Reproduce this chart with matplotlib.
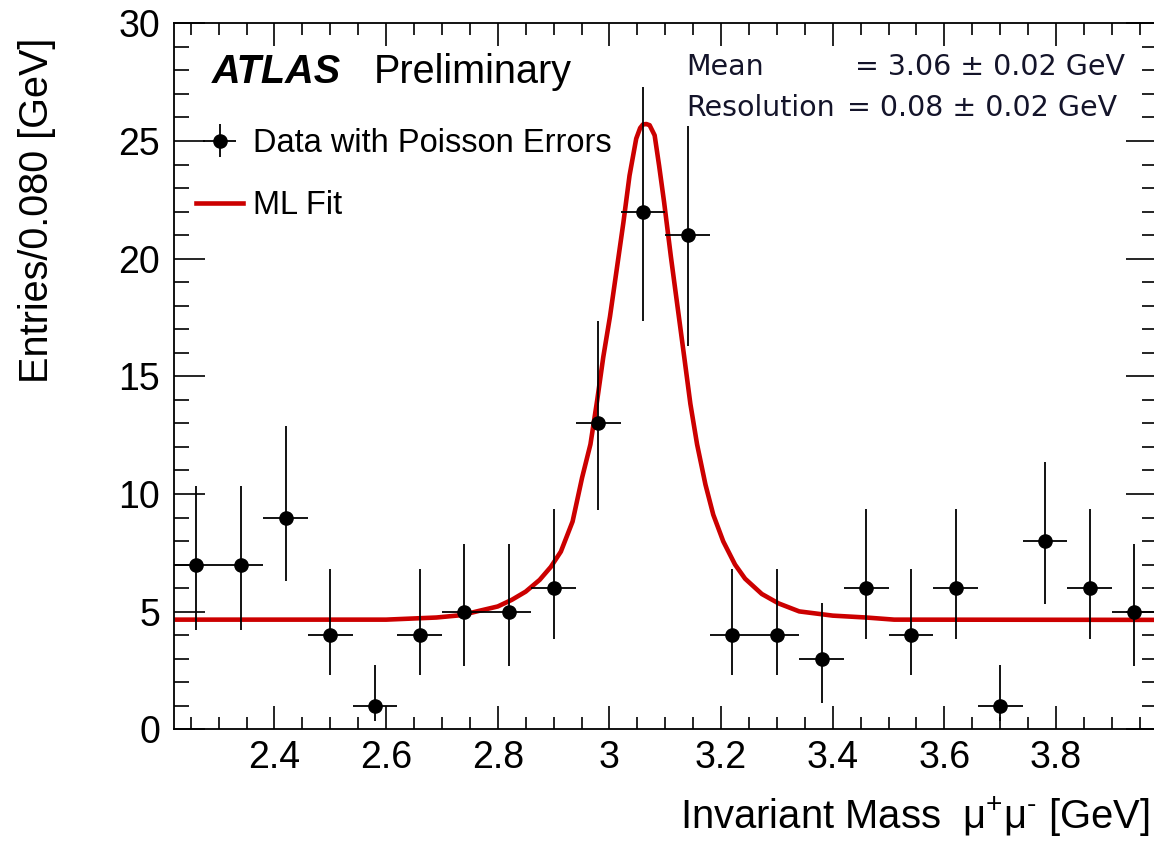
import numpy as np
import matplotlib
matplotlib.use('Agg')
import matplotlib.pyplot as plt
from matplotlib.ticker import MultipleLocator

plt.rcParams['font.family'] = ['Liberation Sans', 'DejaVu Sans']
plt.rcParams['mathtext.fontset'] = 'custom'
plt.rcParams['mathtext.rm'] = 'Liberation Sans'
plt.rcParams['mathtext.it'] = 'Liberation Sans:italic'

# binned data (bin width 0.08 GeV)
bin_width = 0.08
mass = [2.26, 2.34, 2.42, 2.50, 2.58, 2.66, 2.74, 2.82, 2.90, 2.98, 3.06,
        3.14, 3.22, 3.30, 3.38, 3.46, 3.54, 3.62, 3.70, 3.78, 3.86, 3.94]
counts = [7, 7, 9, 4, 1, 4, 5, 5, 6, 13, 22, 21, 4, 4, 3, 6, 4, 6, 1, 8, 6, 5]
err_lo = [2.76, 2.76, 2.70, 1.70, 0.63, 1.70, 2.30, 2.30, 2.16, 3.69, 4.67,
          4.73, 1.70, 1.70, 1.90, 2.16, 1.70, 2.16, 0.63, 2.68, 2.16, 2.30]
err_hi = [3.35, 3.35, 3.88, 2.81, 1.75, 2.81, 2.88, 2.88, 3.35, 4.37, 5.30,
          4.62, 2.81, 2.81, 2.37, 3.35, 2.81, 3.35, 1.75, 3.34, 3.35, 2.88]

# ML fit curve
fit_x = [2.225, 2.60, 2.62, 2.69, 2.735, 2.766, 2.80, 2.825, 2.85, 2.875,
         2.895, 2.913, 2.934, 2.951, 2.966, 2.978, 2.989, 3.001, 3.013, 3.025,
         3.036, 3.048, 3.055, 3.060, 3.066, 3.072, 3.081, 3.089, 3.098, 3.110,
         3.122, 3.134, 3.145, 3.157, 3.172, 3.186, 3.204, 3.225, 3.243, 3.273,
         3.303, 3.34, 3.40, 3.46, 3.51, 3.98]
fit_y = [4.66, 4.66, 4.68, 4.75, 4.85, 5.03, 5.22, 5.50, 5.85, 6.35,
         6.90, 7.55, 8.83, 10.69, 12.11, 13.97, 15.82, 17.54, 19.53, 21.53,
         23.53, 25.10, 25.55, 25.70, 25.72, 25.67, 25.24, 23.95, 22.39, 20.10,
         17.96, 15.82, 13.83, 12.11, 10.40, 9.12, 7.98, 7.00, 6.40, 5.75,
         5.35, 5.01, 4.83, 4.75, 4.66, 4.65]

W, H = 1154, 848
fig = plt.figure(figsize=(W / 100, H / 100), dpi=100)
ax = fig.add_axes([174 / W, (H - 729.3) / H, (1156.5 - 174) / W, (729.3 - 23.3) / H])

red = '#cc0000'
line, = ax.plot(fit_x, fit_y, color=red, lw=3.3, zorder=2, solid_joinstyle='round')
eb = ax.errorbar(mass, counts, xerr=bin_width / 2, yerr=[err_lo, err_hi],
                 fmt='o', color='black', ms=9.5, elinewidth=1.3, capsize=0, zorder=3)

ax.set_xlim(2.22, 3.98)
ax.set_ylim(0, 30)
ax.xaxis.set_minor_locator(MultipleLocator(0.05))
ax.yaxis.set_major_locator(MultipleLocator(5))
ax.yaxis.set_minor_locator(MultipleLocator(1))
ax.set_xticks([2.4, 2.6, 2.8, 3.0, 3.2, 3.4, 3.6, 3.8])
ax.set_xticklabels(['2.4', '2.6', '2.8', '3', '3.2', '3.4', '3.6', '3.8'])

ax.tick_params(which='both', direction='in', top=True, right=True, width=1.2, labelsize=27)
ax.tick_params(axis='x', which='major', length=16.5, pad=8)
ax.tick_params(axis='x', which='minor', length=8.6)
ax.tick_params(axis='y', which='major', length=22, pad=10)
ax.tick_params(axis='y', which='minor', length=11)
for s in ax.spines.values():
    s.set_linewidth(1.3)

fig.text(37 / W, 1 - 38 / H, 'Entries/0.080 [GeV]', rotation=90, ha='center', va='top', fontsize=28.5)
fig.text(1150 / W, 1 - 829 / H, r'Invariant Mass  $\mathrm{μ}^{+}\mathrm{μ}^{\text{-}}$ [GeV]',
         ha='right', va='baseline', fontsize=28.8)

fig.text(212 / W, 1 - 83 / H, 'ATLAS', fontsize=28.5, fontweight='bold', fontstyle='italic', va='baseline')
fig.text(374 / W, 1 - 83 / H, 'Preliminary', fontsize=28.5, va='baseline')

txt_col = '#14142a'
fs_box = 20.5
fig.text(686 / W, 1 - 75 / H, 'Mean', family='DejaVu Sans', fontsize=fs_box, color=txt_col, va='baseline')
fig.text(855 / W, 1 - 75 / H, '= 3.06 ± 0.02 GeV', family='DejaVu Sans', fontsize=fs_box, color=txt_col, va='baseline')
fig.text(686 / W, 1 - 116 / H, 'Resolution', family='DejaVu Sans', fontsize=fs_box, color=txt_col, va='baseline')
fig.text(847 / W, 1 - 116 / H, '= 0.08 ± 0.02 GeV', family='DejaVu Sans', fontsize=fs_box, color=txt_col, va='baseline')

ax.legend([eb, line], ['Data with Poisson Errors', 'ML Fit'], loc='upper left',
          bbox_to_anchor=(196 / W, 1 - 128 / H), bbox_transform=fig.transFigure,
          frameon=False, fontsize=23.5, handlelength=1.45, handletextpad=0.3,
          labelspacing=0.95, borderpad=0, borderaxespad=0)

fig.savefig('out.png', dpi=100)
